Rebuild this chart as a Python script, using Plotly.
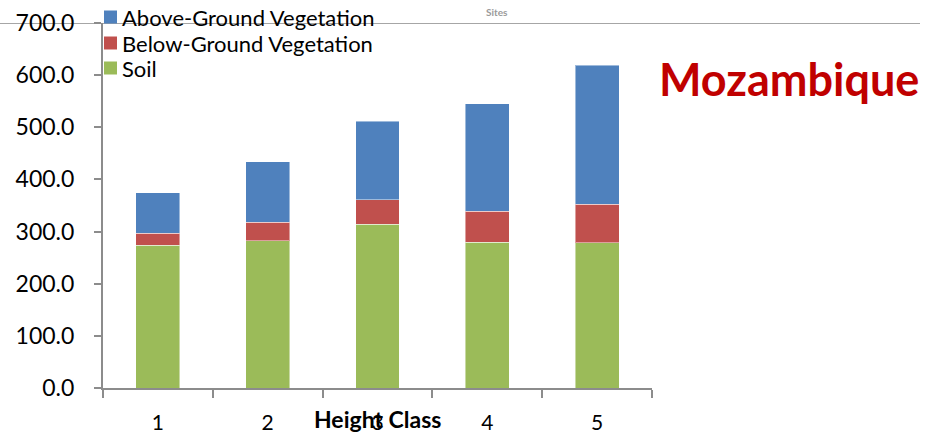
import plotly.graph_objects as go

# Carbon stock by tree height class, stacked by pool
height_classes = ["1", "2", "3", "4", "5"]
soil = [274, 282, 314, 280, 279]
below_ground = [23, 36, 47, 59, 73]
above_ground = [77, 116, 151, 206, 267]

y_ticks = [0, 100, 200, 300, 400, 500, 600, 700]
y_tick_text = [f"{v:.1f}" for v in y_ticks]

series_names = ["Above-Ground Vegetation", "Below-Ground Vegetation", "Soil"]
series_colors = ["#4F81BD", "#C0504D", "#9BBB59"]

FONT = "Lato"
edge = dict(color="rgba(255,255,255,0.45)", width=1)

W, H = 940, 436
L, R, T, B = 103, 288, 23, 48
pw, ph = W - L - R, H - T - B


def px_x(x):
    """Pixel column -> paper x."""
    return (x - L) / pw


def px_y(y):
    """Pixel row (from top) -> paper y."""
    return 1 - (y - T) / ph


fig = go.Figure()
for name, vals, color in [
    ("Soil", soil, series_colors[2]),
    ("Below-Ground Vegetation", below_ground, series_colors[1]),
    ("Above-Ground Vegetation", above_ground, series_colors[0]),
]:
    fig.add_trace(go.Bar(name=name, x=height_classes, y=vals, showlegend=False,
                         marker=dict(color=color, line=edge)))

fig.update_layout(
    width=W, height=H,
    margin=dict(l=L, r=R, t=T, b=B, autoexpand=False),
    barmode="stack",
    bargap=0.6,
    plot_bgcolor="white",
    paper_bgcolor="white",
    font=dict(family=FONT, color="#000000"),
    showlegend=False,
    xaxis=dict(
        type="category",
        range=[-0.5, 4.5],
        automargin=False,
        showline=True, linecolor="#8c8c8c", linewidth=2,
        ticks="outside", tickson="boundaries", ticklen=8,
        tickcolor="#8c8c8c", tickwidth=2,
        tickfont=dict(family=FONT, size=21, color="#000000"),
        ticklabelstandoff=15,
        showgrid=False, zeroline=False,
    ),
    yaxis=dict(
        range=[0, 700],
        automargin=False,
        tickvals=y_ticks, ticktext=y_tick_text,
        showline=True, linecolor="#8c8c8c", linewidth=2,
        ticks="outside", ticklen=7, tickcolor="#8c8c8c", tickwidth=2,
        tickfont=dict(family=FONT, size=23, color="#000000"),
        ticklabelstandoff=15,
        showgrid=False, zeroline=False,
    ),
)

# Thin rule across the top of the panel
fig.add_shape(type="line", xref="paper", yref="y",
              x0=px_x(0), x1=px_x(920), y0=700, y1=700,
              line=dict(color="#a6a6a6", width=2), layer="below")

# Legend: colour swatch plus label for each pool
legend_rows = [17, 43, 68]
for name, color, yc in zip(series_names, series_colors, legend_rows):
    fig.add_shape(type="rect", xref="paper", yref="paper",
                  x0=px_x(104), x1=px_x(117), y0=px_y(yc + 6.5), y1=px_y(yc - 6.5),
                  fillcolor=color, line=dict(width=0), layer="above")
    fig.add_annotation(text=name, xref="paper", yref="paper",
                       x=px_x(120), y=px_y(yc), xanchor="left", yanchor="middle",
                       showarrow=False,
                       font=dict(family=FONT, size=22, color="#000000"))

fig.add_annotation(text="Height Class", xref="paper", yref="paper",
                   x=px_x(377), y=px_y(419),
                   xanchor="center", yanchor="middle", showarrow=False,
                   font=dict(family=FONT, size=23, color="#000000", weight="bold"))

fig.add_annotation(text="Sites", xref="paper", yref="paper",
                   x=px_x(497), y=px_y(12),
                   xanchor="center", yanchor="middle", showarrow=False,
                   font=dict(family=FONT, size=10, color="#9a9a9a", weight="bold"))

fig.add_annotation(text="Mozambique", xref="paper", yref="paper",
                   x=px_x(657), y=px_y(79),
                   xanchor="left", yanchor="middle", showarrow=False,
                   font=dict(family=FONT, size=45, color="#C00000", weight="bold"))

fig.write_html("out.html")
